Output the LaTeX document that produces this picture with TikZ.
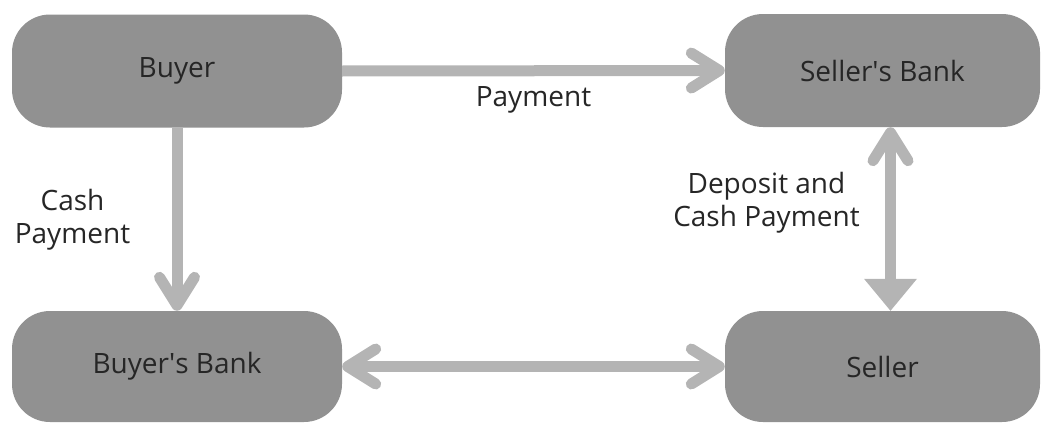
\documentclass[tikz,border=0pt]{standalone}
\usepackage{fontspec}
\setmainfont{Open Sans}
\usepackage{xcolor}
\usetikzlibrary{arrows.meta}
\definecolor{boxgray}{HTML}{919191}
\definecolor{arrowgray}{HTML}{B4B4B4}
\definecolor{txtgray}{HTML}{262626}
\tikzset{
  chev/.tip={Straight Barb[round, length=28pt, width=35pt]},
  wedge/.tip={Triangle[length=32pt, width=53pt, line width=0pt]},
  party/.style={fill=boxgray, rounded corners=38pt, minimum width=330pt, minimum height=113pt, inner sep=0pt, text=txtgray, font=\fontsize{28}{33}\selectfont},
  flow/.style={draw=arrowgray, line width=11pt},
  tag/.style={text=txtgray, font=\fontsize{28}{33}\selectfont, align=center}
}

\begin{document}
\begin{tikzpicture}[x=1pt,y=-1pt]
\useasboundingbox (0,0) rectangle (1044,423);

\node[party] (buyer) at (177,71) {Buyer};
\node[party, minimum width=315pt] (sellerbank) at (882.5,70.5) {Seller\textquotesingle s Bank};
\node[party, minimum height=111pt] (buyerbank) at (177,366.5) {Buyer\textquotesingle s Bank};
\node[party, minimum width=315pt, minimum height=111pt] (seller) at (882.5,366.5) {Seller};

\draw[flow, -chev] (buyer.east) -- (sellerbank.west) node[tag, midway, below=7pt]{Payment};
\draw[flow, -chev] (buyer.south) -- (buyerbank.north) node[tag, midway, left=38pt]{Cash\\Payment};
\draw[flow, chev-wedge] ([xshift=8pt]sellerbank.south) -- ([xshift=8pt]seller.north) node[tag, midway, left=22pt, yshift=16pt]{Deposit and\\Cash Payment};
\draw[flow, chev-chev] (buyerbank.east) -- (seller.west);

\end{tikzpicture}
\end{document}
